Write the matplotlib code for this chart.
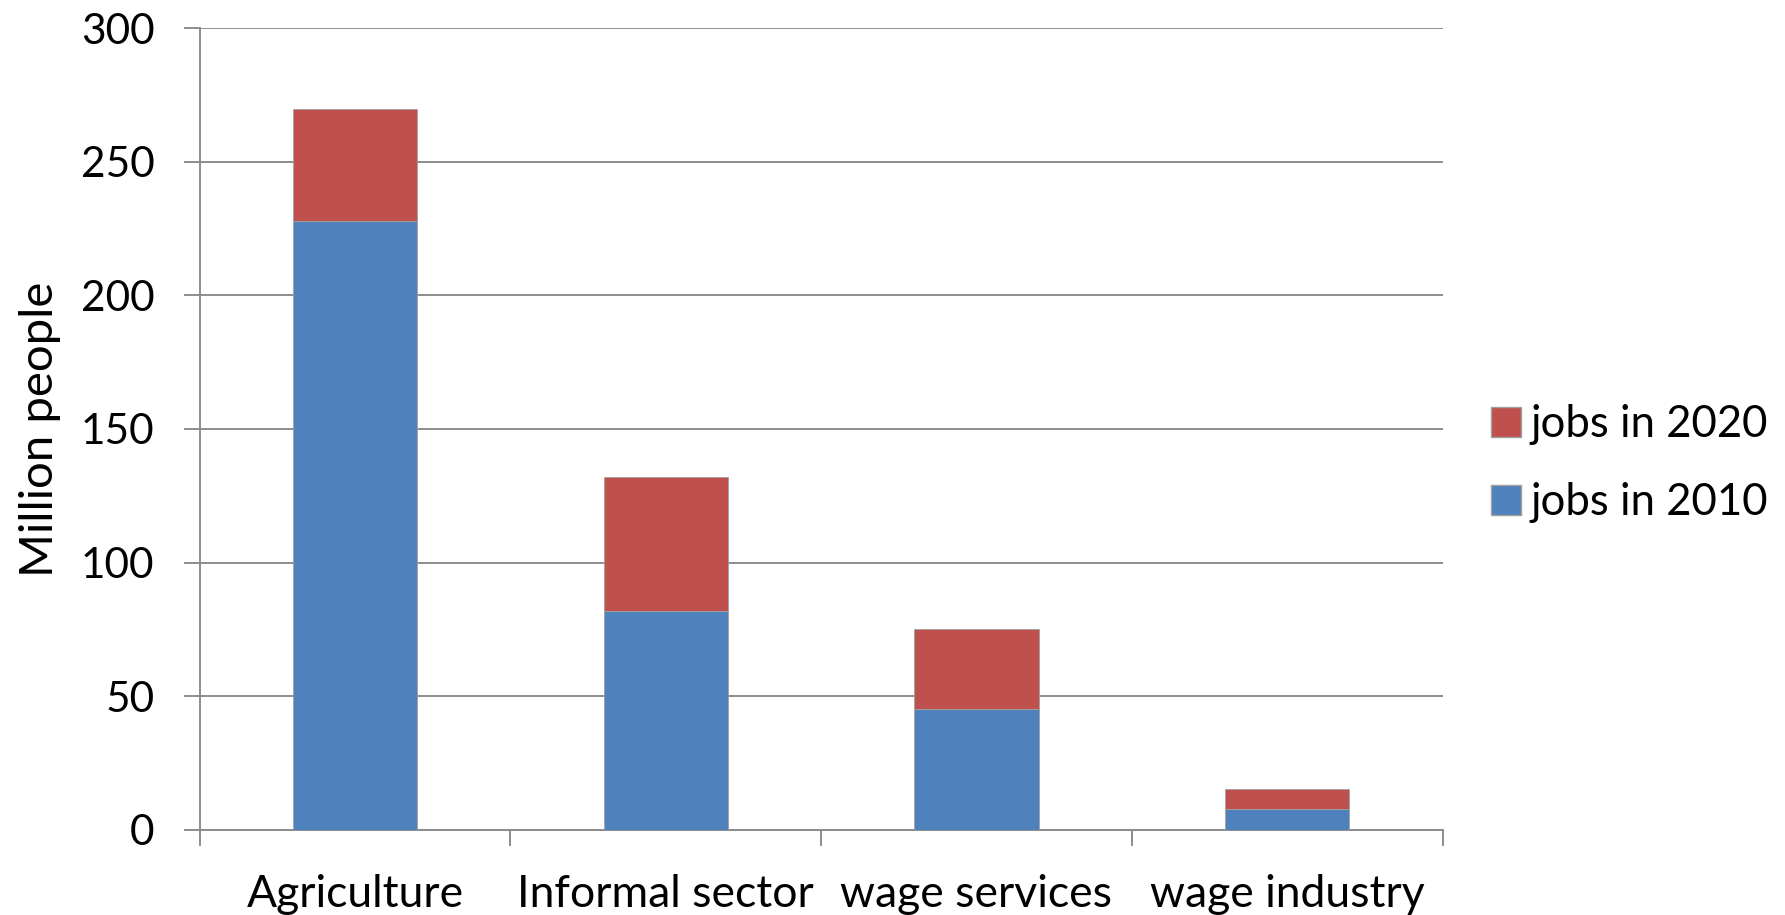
import numpy as np
import matplotlib.pyplot as plt
from matplotlib.patches import Patch

# Sectors and employment (million people)
categories = ['Agriculture', 'Informal sector', 'wage services', 'wage industry']
jobs_2010 = [228, 82, 45, 7.7]
jobs_2020 = [270, 132, 75, 15]
yticks = [0, 50, 100, 150, 200, 250, 300]

blue = '#4F81BD'
red = '#C0504D'
grid_gray = '#8C8C8C'

plt.rcParams['font.family'] = ['Lato', 'DejaVu Sans']

fig = plt.figure(figsize=(17.85, 9.15), dpi=100)
ax = fig.add_axes([0.1118, 0.0934, 0.6964, 0.8755])

x = np.arange(len(categories))
base = np.array(jobs_2010)
extra = np.array(jobs_2020) - base

# Stacked bars: 2010 level at the bottom, growth to 2020 on top
ax.bar(x, base, width=0.4, color=blue, edgecolor='#A0A0A0', linewidth=0.6, zorder=3)
ax.bar(x, extra, bottom=base, width=0.4, color=red, edgecolor='#A0A0A0', linewidth=0.6, zorder=3)

ax.set_xlim(-0.5, len(categories) - 0.5)
ax.set_ylim(0, 300)
ax.set_yticks(yticks)
ax.yaxis.grid(True, color=grid_gray, linewidth=1.4, zorder=0)

# Category labels centred, tick marks on the boundaries between them
ax.set_xticks(x)
ax.set_xticklabels(categories)
ax.set_xticks(np.arange(-0.5, len(categories)), minor=True)
ax.tick_params(axis='x', which='major', length=0, pad=32, labelsize=32)
ax.tick_params(axis='x', which='minor', length=11.5, width=1.4, color=grid_gray, direction='out')
ax.tick_params(axis='y', length=11.5, width=1.4, color=grid_gray, pad=21, labelsize=30.5)

for side in ['top', 'right']:
    ax.spines[side].set_visible(False)
for side in ['left', 'bottom']:
    ax.spines[side].set_color(grid_gray)
    ax.spines[side].set_linewidth(1.4)

ax.set_ylabel('Million people', fontsize=34, labelpad=14)

handles = [Patch(facecolor=red, edgecolor='#A0A0A0', label='jobs in 2020'),
           Patch(facecolor=blue, edgecolor='#A0A0A0', label='jobs in 2010')]
fig.legend(handles=handles, loc='center left', bbox_to_anchor=(0.823, 0.493),
           frameon=False, fontsize=31.5, handlelength=0.68, handleheight=0.68,
           handletextpad=0.22, labelspacing=0.85, borderpad=0)

plt.savefig('out.png', dpi=100)
